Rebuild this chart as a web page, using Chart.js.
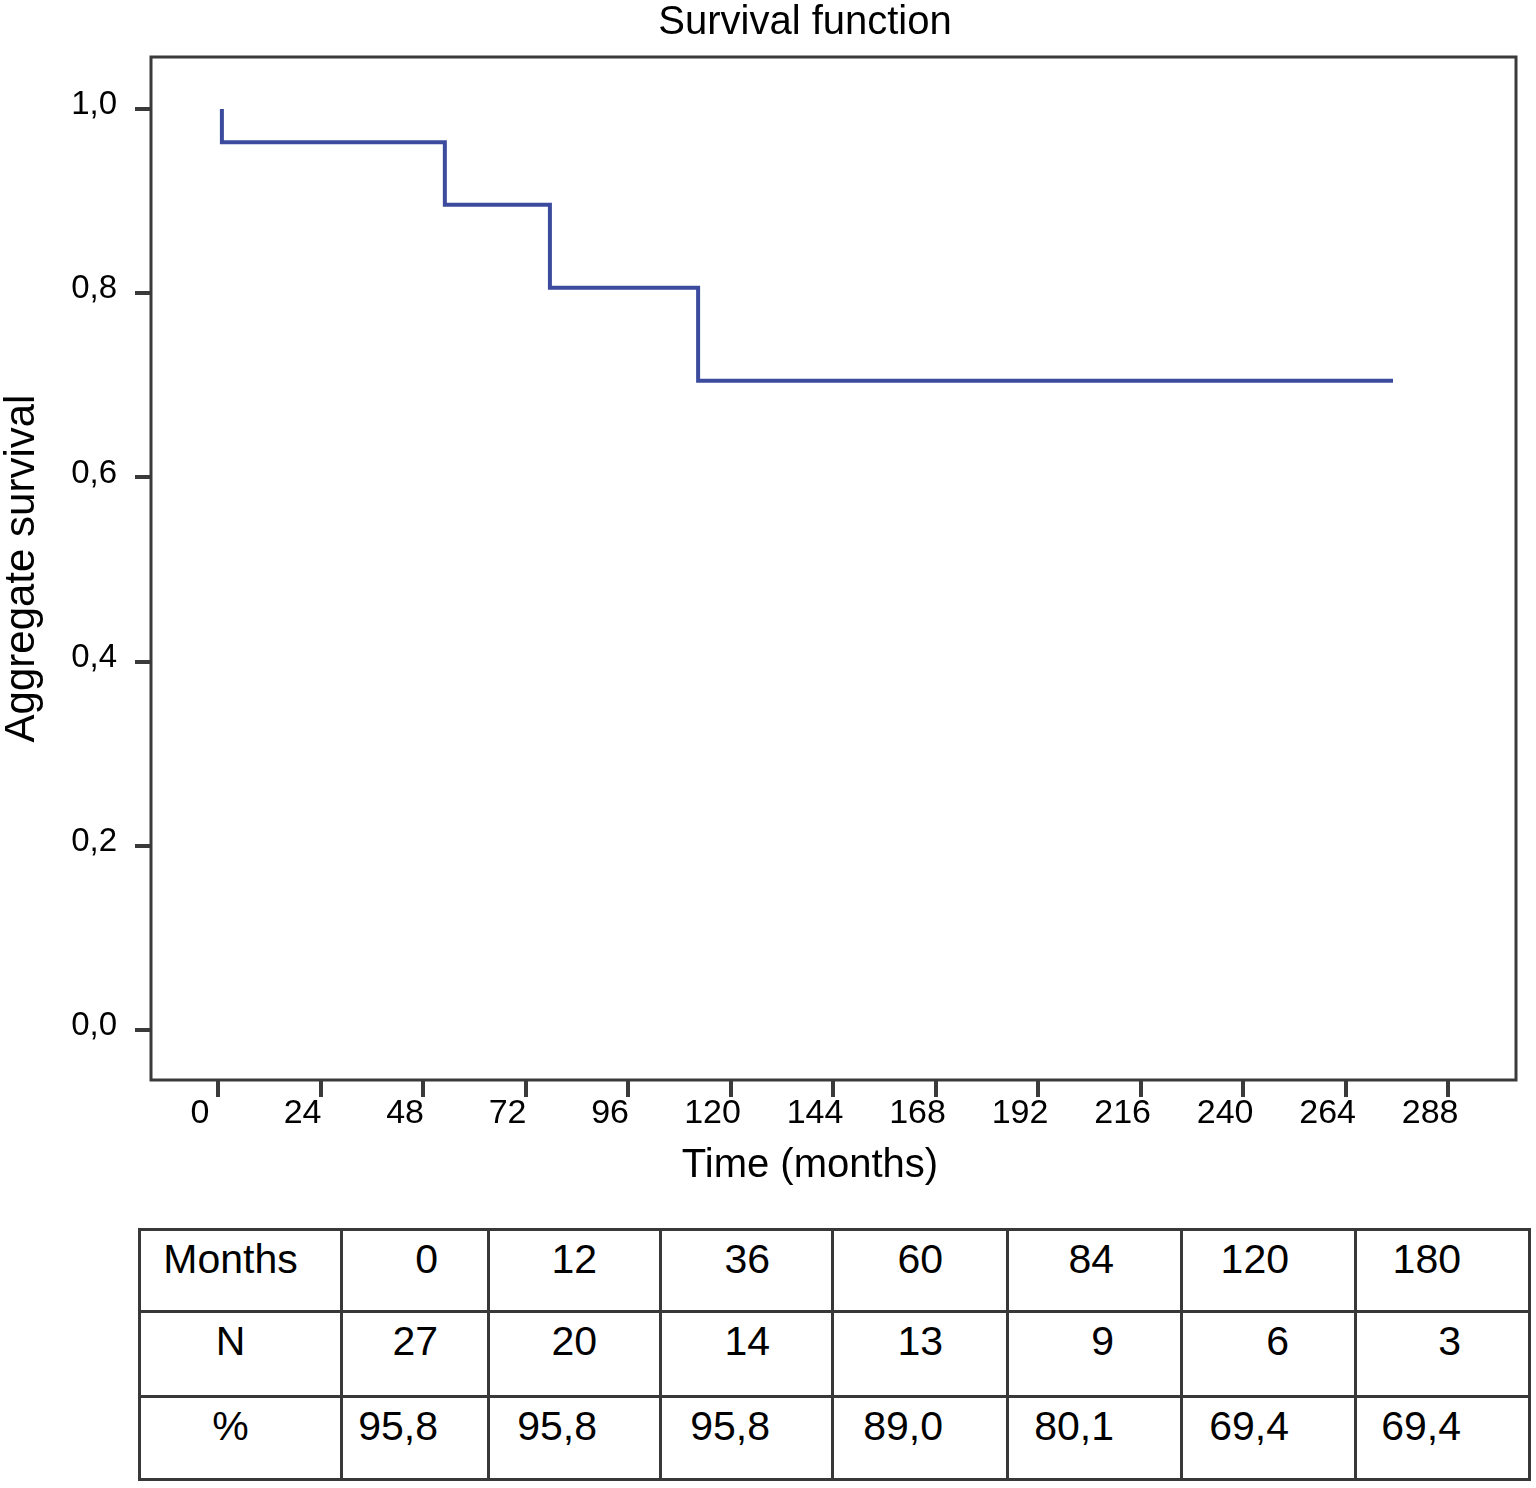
<!DOCTYPE html>
<html>
<head>
<meta charset="utf-8">
<title>Survival function</title>
<script src="https://cdn.jsdelivr.net/npm/chart.js@4.4.1/dist/chart.umd.min.js"></script>
<style>
  html, body { margin: 0; padding: 0; background: #fff; }
  body { width: 1536px; height: 1488px; position: relative; font-family: "Liberation Sans", Arial, sans-serif; }
  #chartBox { position: absolute; left: 0; top: 0; width: 1536px; height: 1200px; }
  #riskTable {
    position: absolute; left: 138px; top: 1228px;
    border-collapse: collapse; table-layout: fixed;
    font-size: 41px; line-height: 46px; color: #000;
  }
  #riskTable td {
    border: 3px solid #383838;
    vertical-align: top; text-align: right;
    padding: 5px 62px 0 0; box-sizing: border-box;
  }
  #riskTable td.head { text-align: center; padding-right: 20px; }
</style>
</head>
<body>
<div id="chartBox"><canvas id="survivalChart"></canvas></div>
<table id="riskTable"></table>

<script>
// step points of the curve
const timeMonths = [0.9, 0.9, 53.1, 77.7, 112.4, 275.1];
const survival = [1.0, 0.964, 0.896, 0.806, 0.705, 0.705];

const xTicks = [0, 24, 48, 72, 96, 120, 144, 168, 192, 216, 240, 264, 288];
const yTicks = [0, 0.2, 0.4, 0.6, 0.8, 1.0];

// table under the chart
const tableMonths = [0, 12, 36, 60, 84, 120, 180];
const tableN = [27, 20, 14, 13, 9, 6, 3];
const tablePct = ['95,8', '95,8', '95,8', '89,0', '80,1', '69,4', '69,4'];

const AXIS_COLOR = '#3a3a3a';
const LINE_COLOR = '#3d4b9e';

Chart.defaults.font.family = '"Liberation Sans", Arial, sans-serif';
Chart.defaults.color = '#000';

const frameAndTitles = {
  id: 'frameAndTitles',
  afterDraw(chart) {
    const { ctx, chartArea } = chart;
    ctx.save();
    ctx.strokeStyle = AXIS_COLOR;
    ctx.lineWidth = 3;
    ctx.strokeRect(chartArea.left, chartArea.top,
      chartArea.right - chartArea.left, chartArea.bottom - chartArea.top);

    ctx.fillStyle = '#000';
    ctx.textAlign = 'center';
    ctx.textBaseline = 'middle';
    ctx.font = '40px "Liberation Sans", Arial, sans-serif';
    ctx.fillText('Survival function', 805, 23);
    ctx.fillText('Time (months)', 810, 1166);
    ctx.restore();
  }
};

function buildSurvivalChart() {
  const ctx = document.getElementById('survivalChart').getContext('2d');
  return new Chart(ctx, {
    type: 'line',
    data: {
      datasets: [{
        label: 'Survival',
        data: timeMonths.map((t, i) => ({ x: t, y: survival[i] })),
        stepped: 'before',
        borderColor: LINE_COLOR,
        borderWidth: 4,
        pointRadius: 0,
        fill: false
      }]
    },
    options: {
      responsive: true,
      maintainAspectRatio: false,
      animation: false,
      layout: { padding: { left: 0, right: 20, top: 57, bottom: 0 } },
      plugins: {
        legend: { display: false },
        title: { display: false },
        tooltip: { enabled: false }
      },
      scales: {
        x: {
          type: 'linear',
          min: -15.7,
          max: 303.9,
          afterBuildTicks: (scale) => { scale.ticks = xTicks.map(v => ({ value: v })); },
          afterFit: (scale) => { scale.height = 120; },
          border: { display: false },
          grid: { drawOnChartArea: false, drawTicks: true, tickLength: 17, color: AXIS_COLOR, lineWidth: 4 },
          ticks: {
            padding: 0,
            labelOffset: -18,
            maxRotation: 0,
            font: { size: 34, lineHeight: 1 },
            callback: (v) => String(v)
          }
        },
        y: {
          min: -0.0543,
          max: 1.0565,
          afterBuildTicks: (scale) => { scale.ticks = yTicks.map(v => ({ value: v })); },
          afterFit: (scale) => { scale.width = 151; },
          border: { display: false },
          grid: { drawOnChartArea: false, drawTicks: true, tickLength: 16, color: AXIS_COLOR, lineWidth: 4 },
          ticks: {
            padding: 18,
            labelOffset: -4,
            font: { size: 33, lineHeight: 1 },
            callback: (v) => v.toFixed(1).replace('.', ',')
          },
          title: {
            display: true,
            text: 'Aggregate survival',
            font: { size: 42, lineHeight: 1.05 },
            padding: 0
          }
        }
      }
    },
    plugins: [frameAndTitles]
  });
}

function buildTable() {
  const table = document.getElementById('riskTable');
  const colWidths = [202, 147, 172, 172, 175, 174, 174, 174];
  const colPadRight = [49, 62, 61, 63, 66, 65, 67];
  const rowHeights = [82, 85, 83];
  const rows = [
    ['Months', tableMonths],
    ['N', tableN],
    ['%', tablePct]
  ];
  rows.forEach(([head, values], r) => {
    const tr = document.createElement('tr');
    tr.style.height = rowHeights[r] + 'px';
    const th = document.createElement('td');
    th.className = 'head';
    th.textContent = head;
    th.style.width = colWidths[0] + 'px';
    tr.appendChild(th);
    values.forEach((v, i) => {
      const td = document.createElement('td');
      td.textContent = v;
      td.style.width = colWidths[i + 1] + 'px';
      td.style.paddingRight = colPadRight[i] + 'px';
      tr.appendChild(td);
    });
    table.appendChild(tr);
  });
}

buildTable();
buildSurvivalChart();
</script>
</body>
</html>
